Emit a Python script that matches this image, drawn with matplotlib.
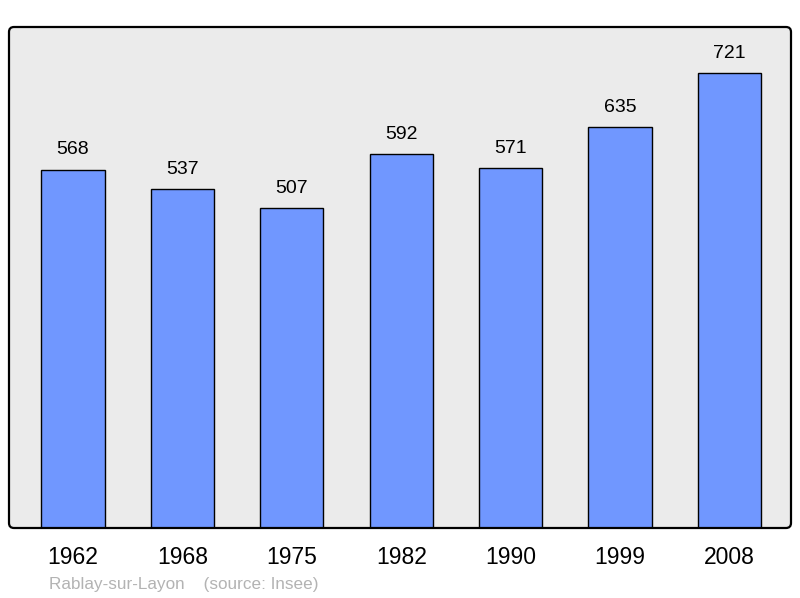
import matplotlib.pyplot as plt
from matplotlib.patches import FancyBboxPatch
from matplotlib.transforms import IdentityTransform

plt.rcParams['font.family'] = ['Liberation Sans', 'DejaVu Sans']

# 数据
years = ['1962', '1968', '1975', '1982', '1990', '1999', '2008']
population = [568, 537, 507, 592, 571, 635, 721]
commune = 'Rablay-sur-Layon'
source = '(source: Insee)'

fig = plt.figure(figsize=(8, 5.98), dpi=100)
ax = fig.add_axes([9 / 800, 70 / 598, 782 / 800, 501 / 598])
ax.set_facecolor('none')

# 圆角背景框：底色在柱子下面，边框在柱子上面
for fc, ec, z in [('#ebebeb', 'none', 0), ('none', 'black', 3)]:
    frame = FancyBboxPatch((9, 70), 782, 501, boxstyle='round,pad=0,rounding_size=5',
                           transform=IdentityTransform(), facecolor=fc,
                           edgecolor=ec, linewidth=1.6, zorder=z, clip_on=False)
    ax.add_artist(frame)

x = range(len(years))
bars = ax.bar(x, population, width=0.576, color='#7097ff', edgecolor='black',
              linewidth=1, zorder=2)
for xi, v in zip(x, population):
    ax.annotate(str(v), (xi, v), xytext=(0, 8), textcoords='offset points',
                ha='center', va='bottom', fontsize=14)

ax.set_xlim(-0.585, 6.563)
ax.set_ylim(0, 794)
ax.set_xticks(list(x))
ax.set_xticklabels(years, fontsize=16.5)
ax.tick_params(axis='x', length=0, pad=13)
ax.set_yticks([])
for s in ax.spines.values():
    s.set_visible(False)

fig.text(49 / 800, 1 - 584 / 598, commune + '    ' + source, color='#b3b3b3',
         fontsize=12.3, ha='left', va='center')

fig.savefig('out.png', dpi=100)
